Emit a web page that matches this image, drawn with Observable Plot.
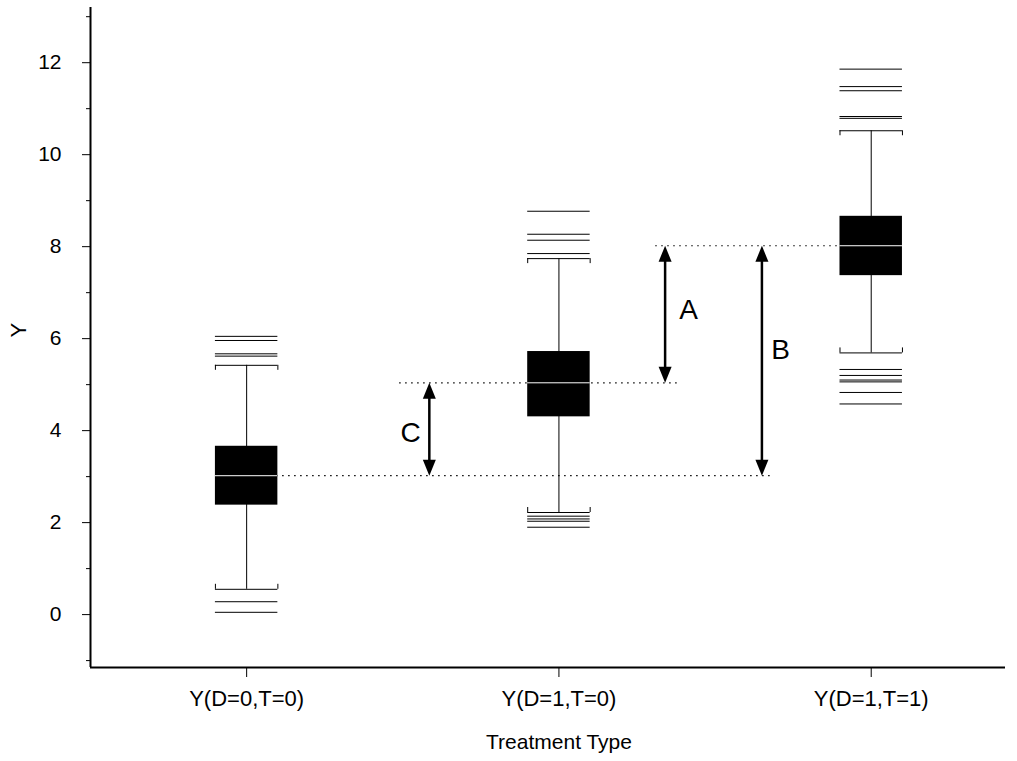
<!DOCTYPE html>
<html><head><meta charset="utf-8">
<script src="https://cdn.jsdelivr.net/npm/d3@7"></script>
<script src="https://cdn.jsdelivr.net/npm/@observablehq/plot@0.6"></script>
<style>body{margin:0;background:#fff}</style>
</head><body><div id="chart"></div>
<script>
// ---- data ----
const categories = ["Y(D=0,T=0)", "Y(D=1,T=0)", "Y(D=1,T=1)"];
const q1 = [2.38, 4.30, 7.37];
const median = [3.02, 5.04, 8.02];
const q3 = [3.66, 5.72, 8.66];
const whiskerLow = [0.55, 2.22, 5.69];
const whiskerHigh = [5.42, 7.74, 10.52];
const outliers = [
  [6.05, 5.96, 5.67, 5.62, 0.28, 0.05],
  [8.77, 8.27, 8.14, 7.85, 2.14, 2.08, 2.03, 1.90],
  [11.86, 11.48, 11.39, 10.83, 10.79, 5.33, 5.20, 5.10, 5.06, 4.83, 4.58]
];
const majorTicks = [0, 2, 4, 6, 8, 10, 12];
const minorTicks = [-1, 1, 3, 5, 7, 9, 11, 13];
// reference (dotted) levels: medians of the groups
const refLevels = [
  {y: median[2], from: 2.31, to: 3},
  {y: median[1], from: 1.49, to: 2.39},
  {y: median[0], from: 1, to: 2.68}
];
// double arrows showing the differences
const arrowLabels = ["A", "B", "C"];
const arrowPos = [2.34, 2.65, 1.585];
const arrowTop = [median[2], median[2], median[1]];
const arrowBottom = [median[1], median[0], median[0]];
const labelPos = [2.415, 2.71, 1.525];
const labelY = [6.62, 5.75, 3.95];

const boxHalf = 0.1;
const yDomain = [-1.15, 13.2];
const xDomain = [0.5, 3.43];

const boxes = categories.map((c, i) => ({
  pos: i + 1, q1: q1[i], med: median[i], q3: q3[i], lo: whiskerLow[i], hi: whiskerHigh[i]
}));
const outlierRows = outliers.flatMap((vals, i) => vals.map(v => ({pos: i + 1, v})));
const arrows = arrowLabels.map((l, i) => ({
  label: l, x: arrowPos[i], top: arrowTop[i], bottom: arrowBottom[i], lx: labelPos[i], ly: labelY[i]
}));

const headUp = {draw(ctx) { ctx.moveTo(0, 0); ctx.lineTo(-6.5, 16); ctx.lineTo(6.5, 16); ctx.closePath(); }};
const headDown = {draw(ctx) { ctx.moveTo(0, 0); ctx.lineTo(-6.5, -16); ctx.lineTo(6.5, -16); ctx.closePath(); }};

const chart = Plot.plot({
  width: 1017, height: 761,
  marginLeft: 90, marginRight: 12, marginTop: 7, marginBottom: 94,
  style: {fontFamily: "'Liberation Sans', Arial, sans-serif", fontSize: "20px", background: "white", color: "black"},
  x: {type: "linear", domain: xDomain},
  y: {domain: yDomain},
  marks: [
    Plot.axisY({ticks: majorTicks, tickSize: 8, tickPadding: 21, tickFormat: d => String(d), label: null, fontSize: 21}),
    Plot.axisY({ticks: minorTicks, tickSize: 4, tickFormat: () => "", label: null}),
    Plot.axisX({ticks: [1, 2, 3], tickFormat: d => categories[d - 1], tickSize: 10, tickPadding: 13, label: null, fontSize: 22}),
    Plot.ruleX([xDomain[0]], {stroke: "black", strokeWidth: 2}),
    Plot.ruleY([yDomain[0]], {stroke: "black", strokeWidth: 2}),
    // dotted reference lines
    Plot.ruleY(refLevels, {y: "y", x1: "from", x2: "to", stroke: "black", strokeWidth: 1.2, strokeDasharray: "1.5,4.5"}),
    // outliers
    Plot.ruleY(outlierRows, {y: "v", x1: d => d.pos - boxHalf, x2: d => d.pos + boxHalf, stroke: "black", strokeWidth: 1}),
    // whiskers
    Plot.ruleX(boxes, {x: "pos", y1: "lo", y2: "hi", stroke: "black", strokeWidth: 1}),
    Plot.ruleY(boxes, {y: "hi", x1: d => d.pos - boxHalf, x2: d => d.pos + boxHalf, stroke: "black", strokeWidth: 1}),
    Plot.ruleY(boxes, {y: "lo", x1: d => d.pos - boxHalf, x2: d => d.pos + boxHalf, stroke: "black", strokeWidth: 1}),
    Plot.ruleX(boxes.flatMap(d => [{x: d.pos - boxHalf, y: d.hi}, {x: d.pos + boxHalf, y: d.hi}]),
      {x: "x", y1: "y", y2: "y", insetTop: 5, stroke: "black", strokeWidth: 1}),
    Plot.ruleX(boxes.flatMap(d => [{x: d.pos - boxHalf, y: d.lo}, {x: d.pos + boxHalf, y: d.lo}]),
      {x: "x", y1: "y", y2: "y", insetBottom: 5, stroke: "black", strokeWidth: 1}),
    // boxes
    Plot.rect(boxes, {x1: d => d.pos - boxHalf, x2: d => d.pos + boxHalf, y1: "q1", y2: "q3", fill: "black"}),
    Plot.ruleY(boxes, {y: "med", x1: d => d.pos - boxHalf, x2: d => d.pos + boxHalf, stroke: "white", strokeWidth: 1}),
    // arrows
    Plot.ruleX(arrows, {x: "x", y1: "top", y2: "bottom", insetTop: 10, insetBottom: 10, stroke: "black", strokeWidth: 2.5}),
    Plot.dot(arrows, {x: "x", y: "top", symbol: headUp, fill: "black", stroke: null}),
    Plot.dot(arrows, {x: "x", y: "bottom", symbol: headDown, fill: "black", stroke: null}),
    Plot.text(arrows, {x: "lx", y: "ly", text: "label", fontSize: 28}),
    // axis titles
    Plot.text(["Treatment Type"], {frameAnchor: "bottom", dx: 11, dy: 81, fontSize: 21}),
    Plot.text(["Y"], {frameAnchor: "left", dx: -72, rotate: -90, fontSize: 22})
  ]
});
document.getElementById("chart").appendChild(chart);
</script>
</body></html>
